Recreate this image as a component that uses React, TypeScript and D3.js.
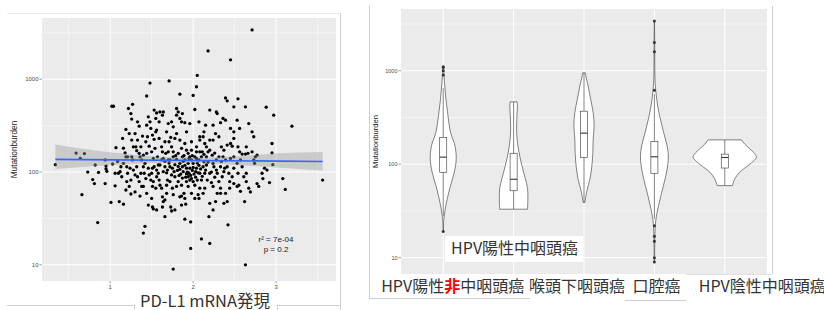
import { useEffect, useRef } from "react";
import * as d3 from "d3";

const JP = '"Noto Sans CJK JP", "Noto Sans", sans-serif';
const AX = '"Liberation Sans", Arial, sans-serif';

// ---------- left panel: PD-L1 mRNA vs mutation burden ----------
const pdl1Ticks = [1, 2, 3];
const burdenTicks = [10, 100, 1000];
const burdenTickLabels = ["10", "100", "1000"];

// [PD-L1 expression, mutation burden]
const scatterPoints: [number, number][] = [
  [2.71, 3400], [2.18, 2020], [2.45, 1620], [2.05, 1100], [1.71, 960], [1.48, 910], [2.04, 830], [2.0, 670],
  [1.84, 690], [1.44, 660], [2.39, 630], [2.41, 585], [2.54, 615], [2.88, 500], [2.97, 410], [3.19, 312],
  [3.56, 82], [3.08, 85], [3.11, 65], [2.92, 77], [2.95, 203], [2.95, 161], [2.96, 120],
  [0.34, 120], [0.59, 160], [0.69, 158], [0.64, 140], [0.66, 57], [0.73, 100], [0.79, 83], [0.81, 75],
  [0.82, 119], [0.86, 99], [0.85, 28.5], [0.94, 135], [0.95, 108], [0.95, 116], [0.94, 75], [0.96, 102],
  [1.01, 47], [1.02, 512], [1.04, 512], [1.07, 183], [1.03, 122], [1.06, 97], [1.1, 97], [1.06, 71],
  [1.11, 48], [1.16, 45], [1.15, 230], [1.16, 181], [1.18, 161], [1.19, 146], [1.2, 114], [1.2, 79],
  [1.21, 97], [1.22, 484], [1.25, 427], [1.27, 537], [1.26, 372], [1.19, 288], [1.23, 260], [1.19, 64],
  [1.23, 70], [1.25, 58], [1.26, 146], [1.27, 135], [1.28, 105], [1.3, 93], [1.3, 260], [1.31, 187],
  [1.32, 170], [1.33, 348], [1.3, 61], [1.33, 89], [1.32, 114], [1.35, 79], [1.35, 312], [1.35, 159],
  [1.36, 146], [1.38, 135], [1.39, 244], [1.4, 114], [1.41, 97], [1.42, 124], [1.44, 320], [1.46, 394],
  [1.48, 348], [1.49, 295], [1.45, 240], [1.47, 190], [1.44, 159], [1.43, 85], [1.4, 70], [1.44, 59],
  [1.4, 22], [1.42, 26], [1.46, 44], [1.5, 52], [1.51, 42], [1.52, 40], [1.49, 82], [1.51, 70],
  [1.52, 140], [1.53, 114], [1.51, 110], [1.53, 465], [1.56, 434], [1.6, 445], [1.64, 445], [1.55, 378],
  [1.59, 348], [1.63, 410], [1.56, 283], [1.59, 230], [1.62, 187], [1.63, 165], [1.57, 146], [1.58, 97],
  [1.56, 89], [1.59, 82], [1.6, 72], [1.62, 67], [1.63, 54], [1.64, 48], [1.66, 33], [1.63, 42],
  [1.56, 39], [1.68, 59], [1.66, 114], [1.68, 98], [1.69, 82], [1.7, 135], [1.67, 159], [1.66, 212],
  [1.68, 271], [1.7, 333], [1.74, 348], [1.76, 307], [1.73, 236], [1.74, 187], [1.76, 165], [1.72, 114],
  [1.77, 101], [1.78, 89], [1.75, 67], [1.73, 42], [1.74, 38], [1.66, 50], [1.78, 39], [1.76, 9],
  [1.8, 410], [1.8, 484], [1.82, 445], [1.87, 427], [1.84, 378], [1.86, 348], [1.9, 340], [1.8, 260],
  [1.84, 221], [1.86, 180], [1.82, 159], [1.8, 137], [1.84, 124], [1.87, 114], [1.84, 107], [1.88, 101],
  [1.82, 79], [1.86, 72], [1.89, 59], [1.86, 55], [1.84, 54], [1.9, 52], [1.91, 45], [1.86, 44],
  [1.9, 31], [1.97, 29], [1.97, 15], [1.94, 159], [1.96, 146], [1.98, 135], [2.0, 124], [1.92, 110],
  [1.95, 97], [1.98, 85], [2.0, 79], [2.02, 72], [1.94, 89], [2.04, 110], [2.07, 135], [2.08, 165],
  [2.04, 187], [1.98, 212], [1.96, 333], [1.92, 271], [2.02, 472], [2.07, 348], [2.08, 221], [2.12, 240],
  [2.13, 271], [2.14, 203], [2.16, 187], [2.1, 146], [2.13, 129], [2.16, 119], [2.12, 114], [2.08, 97],
  [2.05, 82], [2.08, 67], [2.06, 57], [2.07, 52], [2.12, 59], [2.14, 67], [2.17, 82], [2.2, 97],
  [2.2, 46], [2.1, 19], [2.2, 17], [2.19, 33], [2.24, 39], [2.27, 48], [2.29, 59], [2.33, 67],
  [2.31, 79], [2.24, 70], [2.22, 77], [2.29, 97], [2.25, 114], [2.28, 135], [2.23, 152], [2.2, 172],
  [2.2, 221], [2.2, 465], [2.28, 445], [2.29, 427], [2.24, 320], [2.33, 340], [2.36, 378], [2.39, 362],
  [2.31, 240], [2.34, 187], [2.37, 172], [2.41, 195], [2.45, 203], [2.47, 190], [2.49, 146], [2.36, 146],
  [2.39, 135], [2.41, 114], [2.37, 101], [2.43, 97], [2.47, 89], [2.49, 75], [2.53, 70], [2.44, 67],
  [2.39, 59], [2.41, 48], [2.37, 46], [2.42, 27], [2.49, 505], [2.53, 362], [2.56, 295], [2.49, 271],
  [2.54, 187], [2.56, 165], [2.59, 156], [2.63, 156], [2.66, 159], [2.64, 187], [2.59, 114], [2.54, 97],
  [2.64, 97], [2.63, 505], [2.67, 333], [2.71, 271], [2.73, 240], [2.73, 135], [2.75, 146], [2.77, 152],
  [2.74, 124], [2.71, 165], [2.64, 79], [2.67, 67], [2.69, 61], [2.62, 48], [2.77, 75], [2.79, 70],
  [2.83, 97], [2.86, 110], [2.89, 105], [2.57, 62], [2.55, 72], [2.84, 85], [2.63, 10], [2.53, 124],
  [2.49, 230], [2.45, 295],
  [1.09, 130], [1.13, 114], [1.14, 89], [1.16, 124], [1.21, 146], [1.24, 110], [1.12, 101], [1.25, 82],
  [1.36, 55], [1.38, 70], [1.46, 110], [1.47, 93], [1.5, 165], [1.54, 180], [1.6, 119], [1.64, 140],
  [1.7, 165], [1.71, 212], [1.78, 230], [1.9, 203], [1.92, 172], [1.9, 135], [1.94, 124], [1.96, 110],
  [2.03, 101], [1.92, 79], [1.94, 70], [1.8, 70], [1.76, 57], [1.98, 59], [2.02, 52], [2.1, 82],
  [2.14, 97], [2.16, 146], [2.11, 165], [2.18, 165], [2.24, 124], [2.31, 146], [2.33, 114], [2.35, 89],
  [2.33, 59], [2.45, 140], [2.49, 110], [2.57, 135], [2.61, 89], [2.44, 79], [2.24, 221], [2.27, 260],
  [2.15, 320], [2.08, 240], [2.04, 165], [1.98, 172], [2.02, 146], [1.87, 146], [1.76, 146], [1.72, 135],
  [1.62, 135], [1.58, 119], [1.56, 105], [1.5, 97], [1.52, 79], [1.55, 67], [1.68, 72], [1.72, 79],
  [1.74, 93], [1.64, 101], [1.51, 250], [1.53, 225], [1.55, 271], [1.43, 212], [1.37, 187], [1.33, 221],
  [1.28, 187], [1.26, 221], [1.4, 152], [1.37, 97],
  [1.78, 120], [1.82, 115], [1.85, 95], [1.88, 130], [1.9, 118], [1.93, 100], [1.95, 140], [1.97, 92],
  [1.99, 104], [2.01, 95], [2.03, 88], [2.05, 125], [2.06, 98], [2.09, 108], [2.11, 90], [1.81, 104],
  [1.79, 150], [1.83, 92], [1.87, 86], [1.89, 150], [1.91, 88], [1.99, 150], [2.13, 155], [2.15, 105],
  [2.18, 128], [2.22, 100], [2.26, 88], [2.28, 105], [1.71, 125], [1.69, 105], [1.66, 130], [1.75, 110],
  [2.0, 112], [2.04, 140], [1.92, 96], [1.96, 82], [2.07, 118], [2.26, 160], [2.34, 130], [2.38, 110],
];

// linear fit and its confidence band
const fitX = [0.34, 3.56];
const fitY = [137, 130];
const ciX = [0.34, 1.0, 1.5, 2.0, 2.5, 3.0, 3.56];
const ciLow = [108, 118, 124, 125, 119, 112, 104];
const ciHigh = [198, 163, 148, 143, 147, 158, 164];

const statText = ["r² = 7e-04", "p = 0.2"];

// ---------- right panel: mutation burden by cancer type ----------
const cancerTypes = ["HPV陽性非中咽頭癌", "HPV陽性中咽頭癌", "喉頭下咽頭癌", "口腔癌", "HPV陰性中咽頭癌"];
const boxQ1 = [82, 52, 118, 80, 91];
const boxMedian = [119, 69, 215, 120, 118];
const boxQ3 = [194, 131, 369, 175, 128];
const whiskerLow = [28, 33, 39, 26, 59];
const whiskerHigh = [650, 464, 950, 560, 182];
const outliers: number[][] = [
  [19, 900, 1000, 1080, 1100],
  [],
  [],
  [3400, 2000, 1600, 620, 22, 17, 15, 10, 9],
  [],
];
// violin outline: [mutation burden, relative density]
const violinProfiles: [number, number][][] = [
  [[19, 0], [28, 0.03], [43, 0.13], [59, 0.23], [82, 0.35], [114, 0.41], [158, 0.37], [219, 0.23], [330, 0.15], [495, 0.085], [745, 0.04], [1100, 0.01]],
  [[33, 0.44], [43, 0.45], [55, 0.44], [70, 0.37], [97, 0.26], [146, 0.15], [219, 0.095], [330, 0.105], [420, 0.12], [464, 0.11]],
  [[39, 0.03], [50, 0.08], [70, 0.19], [97, 0.25], [134, 0.28], [186, 0.29], [258, 0.32], [356, 0.29], [495, 0.21], [687, 0.13], [870, 0.06], [950, 0.04]],
  [[9, 0.005], [19, 0.02], [26, 0.05], [36, 0.13], [50, 0.23], [70, 0.34], [97, 0.42], [124, 0.44], [158, 0.4], [219, 0.29], [303, 0.19], [420, 0.105], [585, 0.05], [800, 0.02], [1700, 0.01], [3400, 0.005]],
  [[59, 0.24], [70, 0.32], [82, 0.47], [97, 0.74], [109, 0.92], [119, 1.0], [129, 0.95], [146, 0.79], [164, 0.63], [182, 0.53]],
];
const labelShift = [-62, -62.5, -55, -22, -26];

function logDomain(vals: number[]) {
  const [a, b] = d3.extent(vals.map((v) => Math.log10(v))) as [number, number];
  const pad = (b - a) * 0.05;
  return [10 ** (a - pad), 10 ** (b + pad)];
}

function drawScatter(g: any) {
  const left = 42, right = 336, top = 18, bottom = 281;
  const [xa, xb] = d3.extent(scatterPoints, (d) => d[0]) as [number, number];
  const xPad = (xb - xa) * 0.05;
  const x = d3.scaleLinear().domain([xa - xPad, xb + xPad]).range([left, right]);
  const y = d3.scaleLog().domain(logDomain(scatterPoints.map((d) => d[1]))).range([bottom, top]);

  g.append("rect").attr("x", left).attr("y", top).attr("width", right - left).attr("height", bottom - top).attr("fill", "#EBEBEB");

  const xMinor = pdl1Ticks.map((t) => t - 0.5).concat([pdl1Ticks[pdl1Ticks.length - 1] + 0.5]);
  const yMinor = burdenTicks.map((t) => t * Math.sqrt(10)).filter((v) => v < y.domain()[1]);

  g.selectAll("line.xmin").data(xMinor).join("line")
    .attr("x1", (d) => x(d)).attr("x2", (d) => x(d)).attr("y1", top).attr("y2", bottom)
    .attr("stroke", "#fff").attr("stroke-width", 0.5);
  g.selectAll("line.ymin").data(yMinor).join("line")
    .attr("x1", left).attr("x2", right).attr("y1", (d) => y(d)).attr("y2", (d) => y(d))
    .attr("stroke", "#fff").attr("stroke-width", 0.5);
  g.selectAll("line.xmaj").data(pdl1Ticks).join("line")
    .attr("x1", (d) => x(d)).attr("x2", (d) => x(d)).attr("y1", top).attr("y2", bottom)
    .attr("stroke", "#fff").attr("stroke-width", 1);
  g.selectAll("line.ymaj").data(burdenTicks).join("line")
    .attr("x1", left).attr("x2", right).attr("y1", (d) => y(d)).attr("y2", (d) => y(d))
    .attr("stroke", "#fff").attr("stroke-width", 1);

  // axes
  burdenTicks.forEach((t, i) => {
    g.append("line").attr("x1", left - 2.5).attr("x2", left).attr("y1", y(t)).attr("y2", y(t)).attr("stroke", "#444").attr("stroke-width", 0.5);
    g.append("text").attr("x", left - 3.5).attr("y", y(t)).attr("dy", "0.35em").attr("text-anchor", "end")
      .style("font-family", AX).style("font-size", "6px").attr("fill", "#4D4D4D").text(burdenTickLabels[i]);
  });
  pdl1Ticks.forEach((t) => {
    g.append("line").attr("x1", x(t)).attr("x2", x(t)).attr("y1", bottom).attr("y2", bottom + 2.5).attr("stroke", "#444").attr("stroke-width", 0.5);
    g.append("text").attr("x", x(t)).attr("y", bottom + 8).attr("text-anchor", "middle")
      .style("font-family", AX).style("font-size", "6px").attr("fill", "#4D4D4D").text(t);
  });
  g.append("text").attr("transform", `translate(17,${(top + bottom) / 2}) rotate(-90)`).attr("text-anchor", "middle")
    .style("font-family", AX).style("font-size", "8.3px").attr("fill", "#222").text("Mutationburden");

  // points
  g.selectAll("circle.pt").data(scatterPoints).join("circle")
    .attr("cx", (d) => x(d[0])).attr("cy", (d) => y(d[1])).attr("r", 1.65).attr("fill", "#000");

  // confidence band + fit
  const band = d3.area<number>().x((i) => x(ciX[i])).y0((i) => y(ciLow[i])).y1((i) => y(ciHigh[i])).curve(d3.curveMonotoneX);
  g.append("path").attr("d", band(ciX.map((_, i) => i))).attr("fill", "#999").attr("fill-opacity", 0.4);
  g.append("line").attr("x1", x(fitX[0])).attr("x2", x(fitX[1])).attr("y1", y(fitY[0])).attr("y2", y(fitY[1]))
    .attr("stroke", "#3366FF").attr("stroke-width", 1.6);

  g.selectAll("text.stat").data(statText).join("text")
    .attr("x", 276).attr("y", (_, i) => 242 + i * 9.5).attr("text-anchor", "middle")
    .style("font-family", AX).style("font-size", "8px").attr("fill", "#222").text((d) => d);
}

function drawViolins(g: any) {
  const left = 401, right = 767, top = 9, bottom = 274;
  const x = d3.scalePoint<string>().domain(cancerTypes).range([left, right]).padding(0.6);
  const allVals = violinProfiles.flat().map((d) => d[0]).concat(outliers.flat());
  const y = d3.scaleLog().domain(logDomain(allVals)).range([bottom, top]);
  const half = x.step() * 0.45;
  const boxW = x.step() * 0.1;

  g.append("rect").attr("x", left).attr("y", top).attr("width", right - left).attr("height", bottom - top).attr("fill", "#EBEBEB");
  const yMinor = burdenTicks.map((t) => t * Math.sqrt(10)).filter((v) => v < y.domain()[1]);
  g.selectAll("line.ymin").data(yMinor).join("line")
    .attr("x1", left).attr("x2", right).attr("y1", (d) => y(d)).attr("y2", (d) => y(d))
    .attr("stroke", "#fff").attr("stroke-width", 0.5);
  g.selectAll("line.ymaj").data(burdenTicks).join("line")
    .attr("x1", left).attr("x2", right).attr("y1", (d) => y(d)).attr("y2", (d) => y(d))
    .attr("stroke", "#fff").attr("stroke-width", 1);
  g.selectAll("line.xmaj").data(cancerTypes).join("line")
    .attr("x1", (d) => x(d)).attr("x2", (d) => x(d)).attr("y1", top).attr("y2", bottom)
    .attr("stroke", "#fff").attr("stroke-width", 1);

  burdenTicks.forEach((t, i) => {
    g.append("line").attr("x1", left - 2.5).attr("x2", left).attr("y1", y(t)).attr("y2", y(t)).attr("stroke", "#444").attr("stroke-width", 0.5);
    g.append("text").attr("x", left - 3.5).attr("y", y(t)).attr("dy", "0.35em").attr("text-anchor", "end")
      .style("font-family", AX).style("font-size", "5.5px").attr("fill", "#4D4D4D").text(burdenTickLabels[i]);
  });
  g.append("text").attr("transform", `translate(378,${(top + bottom) / 2}) rotate(-90)`).attr("text-anchor", "middle")
    .style("font-family", AX).style("font-size", "7.6px").attr("fill", "#222").text("Mutationburden");

  cancerTypes.forEach((cat, i) => {
    const cx = x(cat) as number;
    const area = d3.area<[number, number]>()
      .y((d) => y(d[0])).x0((d) => cx - d[1] * half).x1((d) => cx + d[1] * half)
      .curve(d3.curveCatmullRom);
    g.append("path").attr("d", area(violinProfiles[i])).attr("fill", "#fff").attr("stroke", "#333").attr("stroke-width", 0.6);

    g.append("line").attr("x1", cx).attr("x2", cx).attr("y1", y(whiskerHigh[i])).attr("y2", y(boxQ3[i])).attr("stroke", "#333").attr("stroke-width", 0.6);
    g.append("line").attr("x1", cx).attr("x2", cx).attr("y1", y(boxQ1[i])).attr("y2", y(whiskerLow[i])).attr("stroke", "#333").attr("stroke-width", 0.6);
    g.append("rect").attr("x", cx - boxW / 2).attr("y", y(boxQ3[i])).attr("width", boxW).attr("height", y(boxQ1[i]) - y(boxQ3[i]))
      .attr("fill", "#fff").attr("stroke", "#333").attr("stroke-width", 0.6);
    g.append("line").attr("x1", cx - boxW / 2).attr("x2", cx + boxW / 2).attr("y1", y(boxMedian[i])).attr("y2", y(boxMedian[i]))
      .attr("stroke", "#333").attr("stroke-width", 1.1);
    g.selectAll(`circle.o${i}`).data(outliers[i]).join("circle")
      .attr("cx", cx).attr("cy", (d) => y(d)).attr("r", 1.5).attr("fill", "#333");
  });

  // category labels placed over the plot
  g.append("rect").attr("x", 445).attr("y", 236).attr("width", 138).attr("height", 26).attr("fill", "#fff");
  g.append("text").attr("x", (x(cancerTypes[1]) as number) + labelShift[1]).attr("y", 254)
    .style("font-family", JP).style("font-size", "16px").attr("fill", "#333").text(cancerTypes[1]);

  const first = g.append("text").attr("x", (x(cancerTypes[0]) as number) + labelShift[0]).attr("y", 292)
    .style("font-family", JP).style("font-size", "16px").attr("fill", "#333");
  first.append("tspan").text("HPV陽性");
  first.append("tspan").attr("fill", "#FF0000").attr("font-weight", "bold").text("非");
  first.append("tspan").text("中咽頭癌");
  [2, 3, 4].forEach((i) => {
    g.append("text").attr("x", (x(cancerTypes[i]) as number) + labelShift[i]).attr("y", 292)
      .style("font-family", JP).style("font-size", "16px").attr("fill", "#333").text(cancerTypes[i]);
  });
}

function drawFrames(svg: any) {
  const ln = (x1: number, y1: number, x2: number, y2: number, c = "#cfcfcf") =>
    svg.append("line").attr("x1", x1).attr("y1", y1).attr("x2", x2).attr("y2", y2).attr("stroke", c).attr("stroke-width", 1);
  ln(7, 13.5, 340, 13.5, "#ececec");
  ln(340.5, 13, 340.5, 310);
  ln(7, 305.5, 134, 305.5);
  ln(277, 305.5, 340, 305.5);
  ln(134.5, 305, 134.5, 310);
  ln(277.5, 305, 277.5, 310);
  ln(369.5, 6, 369.5, 298);
  ln(369, 298.5, 530, 298.5);
  ln(625, 300.5, 686, 300.5);
  ln(772.5, 6, 772.5, 274);
  ln(686, 274.5, 772, 274.5, "#e0e0e0");
}

export default function App() {
  const ref = useRef<SVGSVGElement>(null);

  useEffect(() => {
    if (!ref.current) return;
    const svg = d3.select(ref.current);
    svg.selectAll("*").remove();
    drawFrames(svg);
    drawScatter(svg.append("g"));
    drawViolins(svg.append("g"));
    // x title of the scatter
    svg.append("text").attr("x", 140).attr("y", 307)
      .style("font-family", JP).style("font-size", "16.5px").attr("fill", "#333").text("PD-L1 mRNA発現");
  }, []);

  return <svg ref={ref} width={824} height={310} style={{ position: "absolute", left: 0, top: 0, background: "#fff" }} />;
}
